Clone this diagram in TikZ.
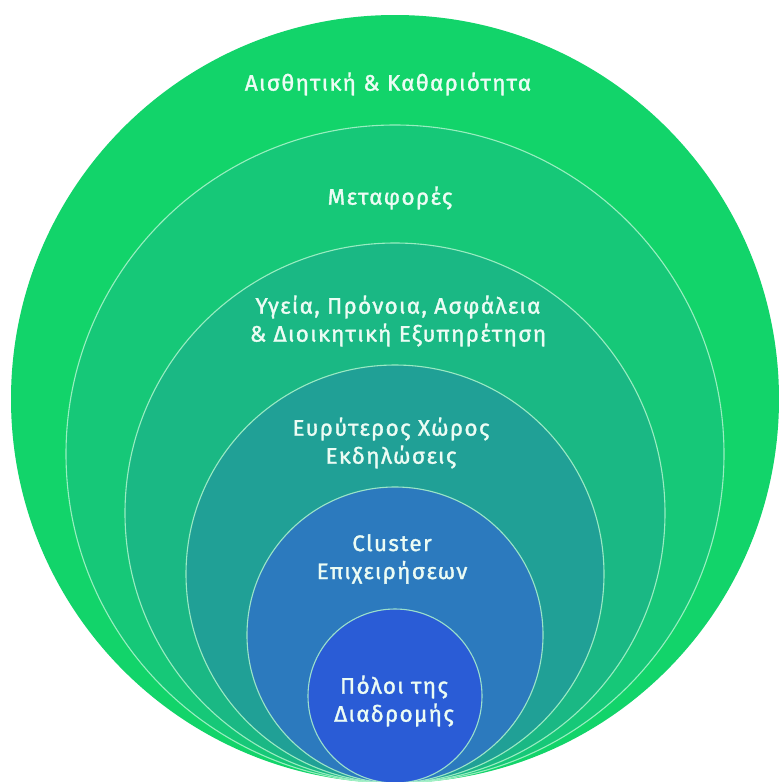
\documentclass[tikz,border=0pt]{standalone}
\usepackage{fontspec}
\setmainfont{Fira Sans}
\newfontfamily\ringfont{Fira Sans}[FakeBold=1.4, LetterSpace=6]
\usepackage{tikz}
\definecolor{ringa}{RGB}{18,212,106}
\definecolor{ringb}{RGB}{22,200,120}
\definecolor{ringc}{RGB}{26,184,132}
\definecolor{ringd}{RGB}{32,160,150}
\definecolor{ringe}{RGB}{44,122,190}
\definecolor{ringf}{RGB}{42,92,214}
\definecolor{ringline}{RGB}{175,245,205}
\definecolor{ringtext}{RGB}{236,252,244}

\begin{document}
\begin{tikzpicture}[x=1pt,y=-1pt]
        \tikzset{ring/.style={draw=ringline, draw opacity=0.85, line width=1.1pt},
                 label/.style={text=ringtext, align=center, inner sep=0pt,
                               font=\ringfont\fontsize{22.5}{28}\selectfont}}
        \pgfmathsetmacro{\cx}{395}
        \pgfmathsetmacro{\base}{783}
        \useasboundingbox (0,0) rectangle (779,782);
        \fill[white] (0,0) rectangle (779,782);
        \coordinate (ca) at (\cx,\base-384);
        \coordinate (cb) at (\cx,\base-329);
        \coordinate (cc) at (\cx,\base-270);
        \coordinate (cd) at (\cx,\base-209);
        \coordinate (ce) at (\cx,\base-148);
        \coordinate (cf) at (\cx,\base-87);
        \fill[ringa] (ca) circle[radius=384pt];
        \draw[ring, fill=ringb] (cb) circle[radius=329pt];
        \draw[ring, fill=ringc] (cc) circle[radius=270pt];
        \draw[ring, fill=ringd] (cd) circle[radius=209pt];
        \draw[ring, fill=ringe] (ce) circle[radius=148pt];
        \draw[ring, fill=ringf] (cf) circle[radius=87pt];
        \node[label] (aesthetics) at (388,84) {Αισθητική \& Καθαριότητα};
        \node[label] (transport) at (390,198) {Μεταφορές};
        \node[label] (health) at (398,321) {Υγεία, Πρόνοια, Ασφάλεια\\\& Διοικητική Εξυπηρέτηση};
        \node[label] (events) at (391,443) {Ευρύτερος Χώρος\\Εκδηλώσεις};
        \node[label] (cluster) at (392,559) {Cluster\\Επιχειρήσεων};
        \node[label] (poles) at (394,701) {Πόλοι της\\Διαδρομής};
    \end{tikzpicture}
\end{document}
